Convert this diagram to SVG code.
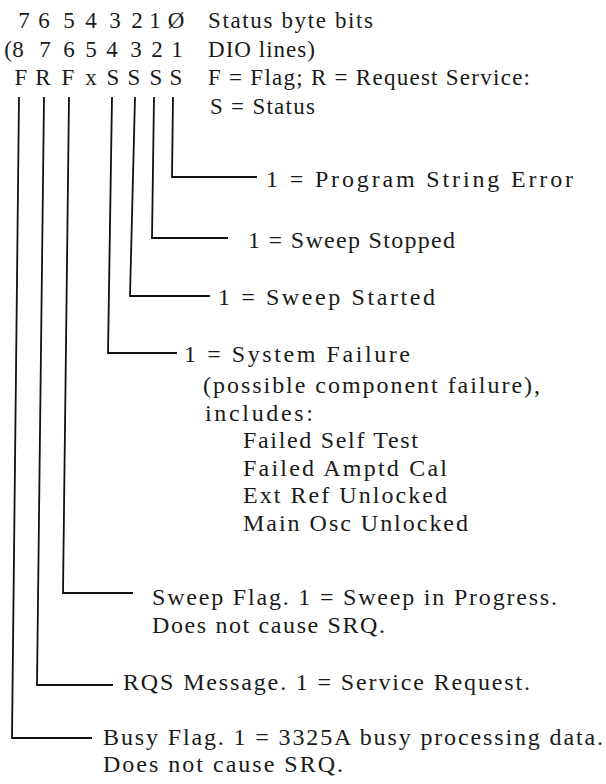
<svg xmlns="http://www.w3.org/2000/svg" width="606" height="784" viewBox="0 0 606 784">
  <style>
    .t { font-family: "Liberation Serif", "Times New Roman", serif; font-size: 24px; fill: #1a1a1a; }
    .h { font-size: 23px; }
    .c { text-anchor: middle; }
    .ln { fill: none; stroke: #111; stroke-width: 1.8; stroke-linejoin: miter; }
  </style>
  <rect width="606" height="784" fill="#ffffff"/>

  <!-- bit legend rows -->
  <g id="header">
    <text class="t h c" x="24 34 44 56 69 80 91 103 115 126 137 146 155 165 176" y="28">7 6 5 4 3 2 1 Ø</text>
    <text class="t h c" x="8 18 31 45 57 69 80 91 101 112 124 136 146 157 167 177" y="57">(8 7 6 5 4 3 2 1</text>
    <text class="t h c" x="21 32 43 55 68 80 91 102 113 124 134 145 156 166 176" y="85">F R F x S S S S</text>
    <text class="t h" x="208" y="28" textLength="165" lengthAdjust="spacing">Status byte bits</text>
    <text class="t h" x="208" y="57" textLength="107" lengthAdjust="spacing">DIO lines)</text>
    <text class="t h" x="208" y="85" textLength="322" lengthAdjust="spacing">F = Flag; R = Request Service:</text>
    <text class="t h" x="210" y="114" textLength="105" lengthAdjust="spacing">S = Status</text>
  </g>

  <!-- leader lines from each bit column -->
  <g id="connectors">
    <path class="ln" d="M173 97 L172 177 L257 177"/>
    <path class="ln" d="M154 97 L152 238 L228 238"/>
    <path class="ln" d="M135 97 L130 296 L210 296"/>
    <path class="ln" d="M112 97 L108 353 L177 353"/>
    <path class="ln" d="M69 97 L63 593 L133 593"/>
    <path class="ln" d="M44 97 L37 685 L113 685"/>
    <path class="ln" d="M19 97 L12 738 L92 738"/>
  </g>

  <g id="bit0">
    <text class="t" x="266" y="187" textLength="307" lengthAdjust="spacing">1 = Program String Error</text>
  </g>
  <g id="bit1">
    <text class="t" x="248" y="248" textLength="207" lengthAdjust="spacing">1 = Sweep Stopped</text>
  </g>
  <g id="bit2">
    <text class="t" x="218" y="305" textLength="217" lengthAdjust="spacing">1 = Sweep Started</text>
  </g>
  <g id="bit3">
    <text class="t" x="184" y="362" textLength="226" lengthAdjust="spacing">1 = System Failure</text>
    <text class="t" x="203" y="393" textLength="337" lengthAdjust="spacing">(possible component failure),</text>
    <text class="t" x="205" y="421" textLength="108" lengthAdjust="spacing">includes:</text>
    <text class="t" x="243" y="448" textLength="175" lengthAdjust="spacing">Failed Self Test</text>
    <text class="t" x="243" y="476" textLength="204" lengthAdjust="spacing">Failed Amptd Cal</text>
    <text class="t" x="243" y="503" textLength="204" lengthAdjust="spacing">Ext Ref Unlocked</text>
    <text class="t" x="243" y="531" textLength="225" lengthAdjust="spacing">Main Osc Unlocked</text>
  </g>
  <g id="bit5">
    <text class="t" x="152" y="605" textLength="405" lengthAdjust="spacing">Sweep Flag. 1 = Sweep in Progress.</text>
    <text class="t" x="152" y="633" textLength="233" lengthAdjust="spacing">Does not cause SRQ.</text>
  </g>
  <g id="bit6">
    <text class="t" x="123" y="690" textLength="407" lengthAdjust="spacing">RQS Message. 1 = Service Request.</text>
  </g>
  <g id="bit7">
    <text class="t" x="103" y="745" textLength="500" lengthAdjust="spacing">Busy Flag. 1 = 3325A busy processing data.</text>
    <text class="t" x="103" y="772" textLength="240" lengthAdjust="spacing">Does not cause SRQ.</text>
  </g>
</svg>
